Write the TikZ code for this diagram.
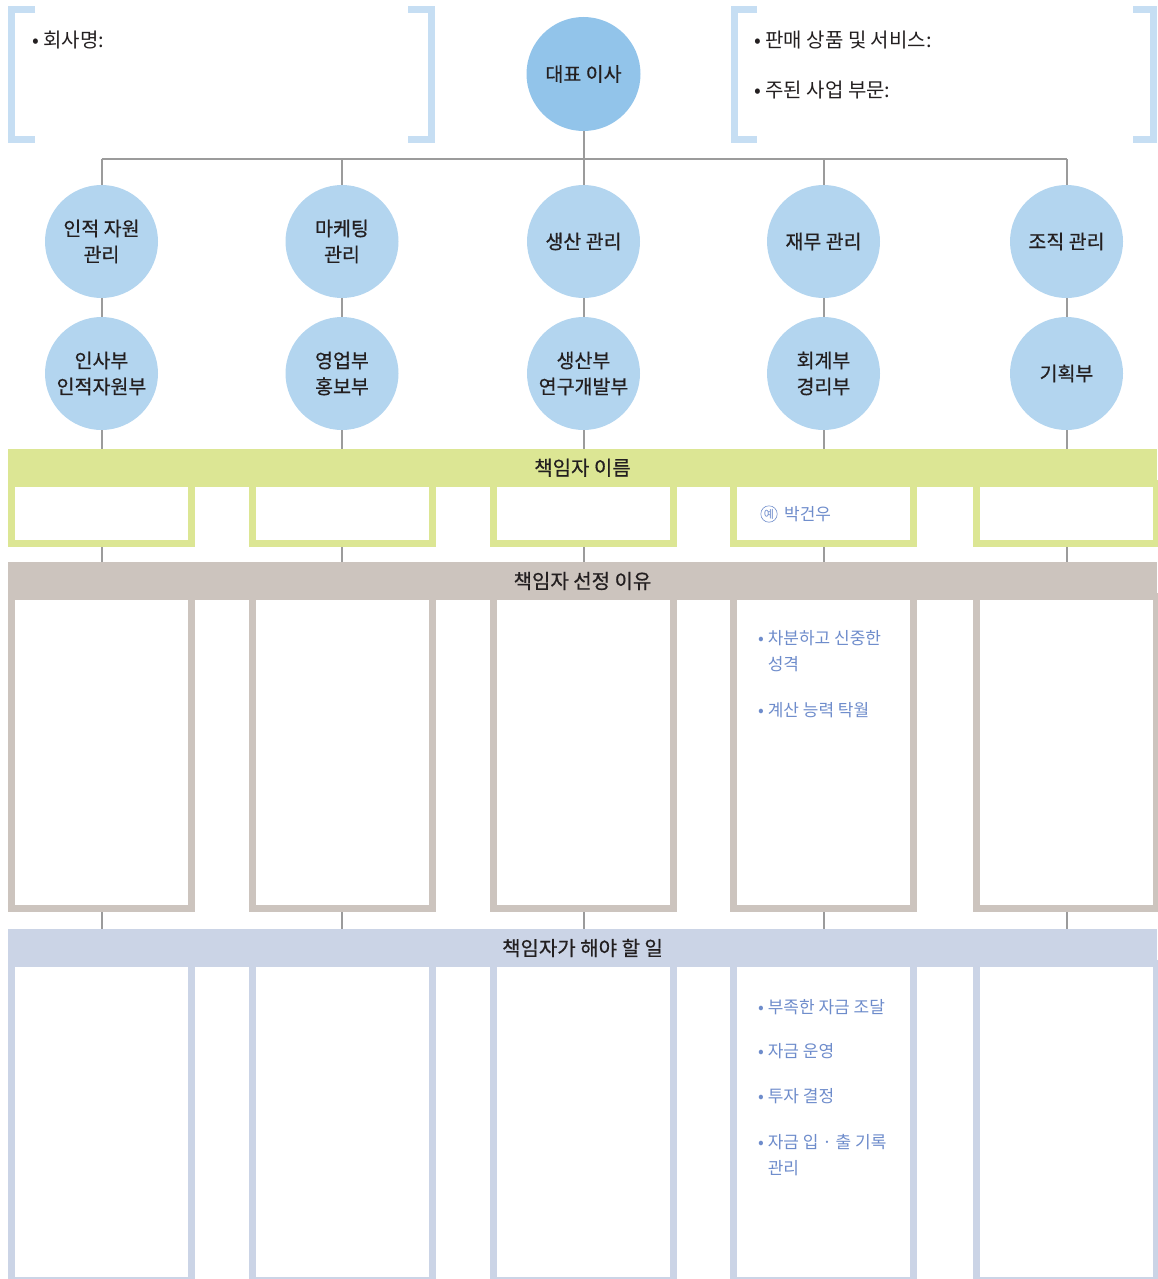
\documentclass[tikz,border=0pt]{standalone}
\usepackage{fontspec}
\setmainfont{Noto Sans CJK KR}
\newfontfamily\krmid[FakeBold=0.6]{Noto Sans CJK KR}
\usetikzlibrary{calc}

\definecolor{ceoblue}{HTML}{92C4EA}
\definecolor{deptblue}{HTML}{B3D5EF}
\definecolor{brkblue}{HTML}{C6DEF3}
\definecolor{namegreen}{HTML}{DCE694}
\definecolor{reasongray}{HTML}{CCC4BE}
\definecolor{taskblue}{HTML}{CBD4E6}
\definecolor{linegray}{HTML}{9B9B9B}
\definecolor{penblue}{HTML}{6E8CCB}
\definecolor{inkdark}{HTML}{231F20}

\begin{document}
\begin{tikzpicture}[x=1pt,y=-1pt,
    circ/.style={circle,fill=#1,minimum size=113pt,inner sep=0pt,align=center,
        font=\krmid\fontsize{19.5}{26}\selectfont,text=inkdark},
    band/.style={rectangle,fill=#1,minimum width=1149pt,minimum height=38pt,inner sep=0pt,
        font=\krmid\fontsize{20}{24}\selectfont,text=inkdark},
    slot/.style={rectangle,draw=#1,line width=7pt,minimum width=180pt,inner sep=0pt},
    link/.style={draw=linegray,line width=2pt},
    brk/.style={draw=brkblue,line width=7pt},
    note/.style={anchor=west,inner sep=0pt,font=\fontsize{20}{24}\selectfont,text=inkdark},
    pen/.style={anchor=north west,inner sep=0pt,align=left,font=\fontsize{17}{26}\selectfont,text=penblue}]
    \useasboundingbox (0,0) rectangle (1157,1279);

    % 위쪽 괄호와 회사 정보
    \draw[brk] (35,9.5) -- (11.5,9.5) -- (11.5,139.5) -- (35,139.5);
    \draw[brk] (408,9.5) -- (431.5,9.5) -- (431.5,139.5) -- (408,139.5);
    \draw[brk] (757,9.5) -- (734.5,9.5) -- (734.5,139.5) -- (757,139.5);
    \draw[brk] (1133,9.5) -- (1153.5,9.5) -- (1153.5,139.5) -- (1133,139.5);
    \node[note] (firm) at (32,40) {• 회사명:};
    \node[note] (goods) at (754,40) {• 판매 상품 및 서비스:};
    \node[note] (biz) at (754,90) {• 주된 사업 부문:};

    % 대표 이사
    \node[circ=ceoblue,minimum size=114pt] (ceo) at (583.5,74) {대표 이사};
    \coordinate (bus) at (0,159);

    % 부문 관리와 부서
    \foreach \i/\x/\mname/\dname in {1/101.5/{인적 자원\\관리}/{인사부\\인적자원부},
                                    2/342/{마케팅\\관리}/{영업부\\홍보부},
                                    3/583.5/{생산 관리}/{생산부\\연구개발부},
                                    4/823.5/{재무 관리}/{회계부\\경리부},
                                    5/1066.5/{조직 관리}/{기획부}} {
        \node[circ=deptblue] (m\i) at (\x,241.5) {\mname};
        \node[circ=deptblue] (d\i) at (\x,373.5) {\dname};
        \node[slot=namegreen,minimum height=60.5pt] (g\i) at (\x,513.25) {};
        \node[slot=reasongray,minimum height=312.5pt] (r\i) at (\x,752.25) {};
        \node[slot=taskblue,minimum height=317pt] (t\i) at (\x,1122) {};
    }

    % 띠 제목
    \node[band=namegreen,minimum height=37.5pt] (nameband) at (582.5,467.75) {책임자 이름};
    \node[band=reasongray] (whyband) at (582.5,581) {책임자 선정 이유};
    \node[band=taskblue] (taskband) at (582.5,948) {책임자가 해야 할 일};

    % 연결선
    \draw[link] (ceo) -- (ceo |- bus);
    \draw[link] (m1 |- bus) -- (m5 |- bus);
    \foreach \i in {1,...,5} {
        \draw[link] (m\i |- bus) -- (m\i);
        \draw[link] (m\i) -- (d\i);
        \draw[link] (d\i) -- (d\i |- nameband.north);
        \draw[link] (g\i.south) -- (g\i |- whyband.north);
        \draw[link] (r\i.south) -- (r\i |- taskband.north);
    }

    % 예시 (재무 관리)
    \node[circle,draw=penblue,line width=0.6pt,inner sep=0.8pt,text=penblue,
        font=\fontsize{11}{11}\selectfont] (ex) at (769,514) {예};
    \node[anchor=west,inner sep=0pt,text=penblue,font=\fontsize{17}{20}\selectfont]
        (exname) at (784,514) {박건우};
    \node[pen] (why4) at (758,630) {• 차분하고 신중한\\\phantom{• }성격\\[20pt]• 계산 능력 탁월};
    \node[pen] (duty4) at (758,999) {• 부족한 자금 조달\\[18pt]• 자금 운영\\[19pt]• 투자 결정\\[20pt]%
        • 자금 입 · 출 기록\\\phantom{• }관리};
\end{tikzpicture}
\end{document}
